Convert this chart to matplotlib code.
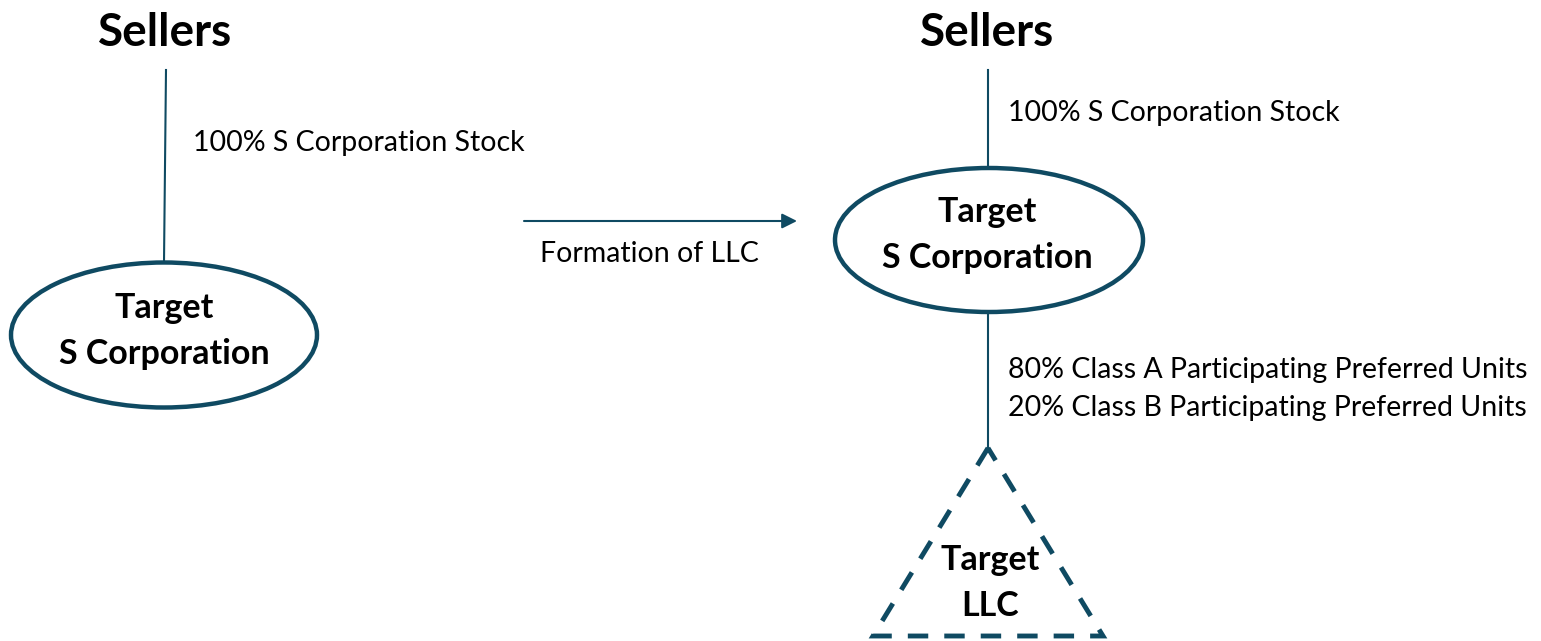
import matplotlib
matplotlib.use("Agg")
import matplotlib.pyplot as plt
from matplotlib.patches import Ellipse, Polygon

plt.rcParams['font.family'] = ['Lato', 'DejaVu Sans']

# ---- content ----
owner_label = "Sellers"
stock_label = "100% S Corporation Stock"
corp_label = "Target\nS Corporation"
step_label = "Formation of LLC"
unit_labels = ["80% Class A Participating Preferred Units",
               "20% Class B Participating Preferred Units"]
llc_label = "Target\nLLC"

COLOR = "#0F4A62"
W, H = 1541, 641
FS_HEAD = 33
FS_BOLD = 24.5
FS_REG = 20.5

fig = plt.figure(figsize=(W / 100, H / 100), dpi=100)
ax = fig.add_axes([0, 0, 1, 1])
ax.set_xlim(0, W)
ax.set_ylim(H, 0)
ax.axis("off")

# ---------- left structure ----------
ax.text(165, 33, owner_label, ha="center", va="center", fontsize=FS_HEAD, fontweight="bold")
ax.plot([166, 164], [70, 262], color=COLOR, lw=1.5)
ax.text(193, 143, stock_label, ha="left", va="center", fontsize=FS_REG)
ax.add_patch(Ellipse((164, 335), 306, 145, fill=False, edgecolor=COLOR, lw=3.2))
ax.text(164, 331, corp_label, ha="center", va="center", fontsize=FS_BOLD,
        fontweight="bold", linespacing=1.5)

# ---------- arrow ----------
ax.annotate("", xy=(797, 221), xytext=(524, 221),
            arrowprops=dict(arrowstyle="-|>,head_length=0.9,head_width=0.45",
                            color=COLOR, lw=1.5, shrinkA=0, shrinkB=0))
ax.text(540, 254, step_label, ha="left", va="center", fontsize=FS_REG)

# ---------- right structure ----------
ax.text(987, 33, owner_label, ha="center", va="center", fontsize=FS_HEAD, fontweight="bold")
ax.plot([988, 988], [70, 168], color=COLOR, lw=1.5)
ax.text(1008, 113, stock_label, ha="left", va="center", fontsize=FS_REG)
ax.add_patch(Ellipse((989, 240), 308, 144, fill=False, edgecolor=COLOR, lw=3.2))
ax.text(987, 235, corp_label, ha="center", va="center", fontsize=FS_BOLD,
        fontweight="bold", linespacing=1.5)

ax.plot([988, 988], [312, 448], color=COLOR, lw=1.5)
ax.text(1008, 389, "\n".join(unit_labels), ha="left", va="center", fontsize=FS_REG,
        linespacing=1.55)

tri = Polygon([(988, 448), (873, 636), (1103, 636)], closed=True, fill=False,
              edgecolor=COLOR, lw=3.5, linestyle=(0, (4.2, 3.3)), joinstyle="miter")
ax.add_patch(tri)
ax.text(990, 583, llc_label, ha="center", va="center", fontsize=FS_BOLD,
        fontweight="bold", linespacing=1.5)

fig.savefig("out.png", dpi=100)
